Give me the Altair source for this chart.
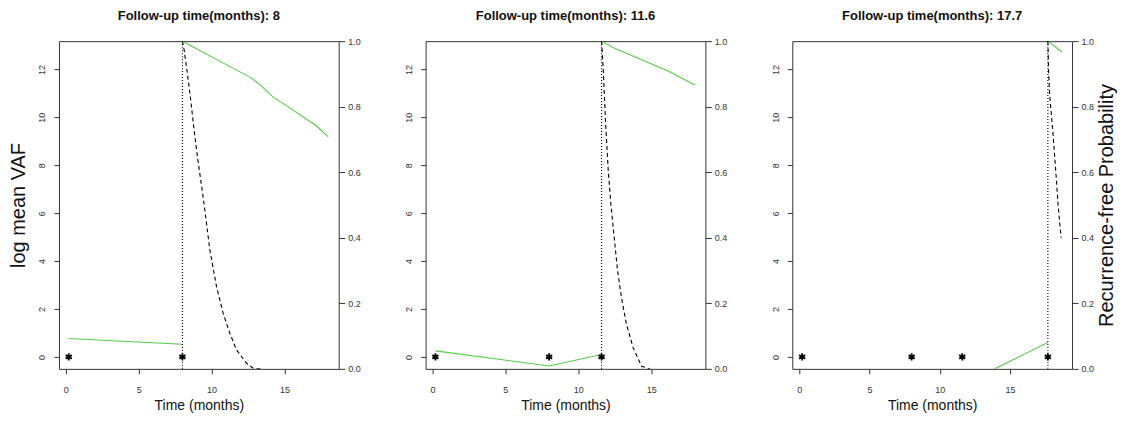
import altair as alt
import pandas as pd

# ---------------- data ----------------
followup = [8, 11.6, 17.7]
visit_times = [[0.2, 8.0], [0.2, 8.0, 11.6], [0.2, 8.0, 11.6, 17.7]]

# fitted longitudinal trajectory (log mean VAF, left axis)
vaf_x = [[0.2, 8.0], [0.2, 8.0, 11.6], [13.9, 17.7]]
vaf_y = [[0.77, 0.53], [0.25, -0.38, 0.1], [-0.5, 0.6]]

# predicted recurrence-free probability (green, right axis)
rfp_x = [[8.0, 10.0, 12.6, 13.3, 14.2, 15.0, 17.2, 18.0],
         [11.6, 12.5, 16.2, 18.0],
         [17.7, 18.7]]
rfp_y = [[1.0, 0.952, 0.891, 0.868, 0.83, 0.807, 0.741, 0.708],
         [1.0, 0.978, 0.908, 0.866],
         [1.0, 0.967]]

# lower band (dashed, right axis)
low_x = [[8.0, 8.12, 8.34, 8.57, 8.8, 9.03, 9.45, 9.88, 10.34, 10.79, 11.25, 11.71, 12.4, 12.85, 13.4],
         [11.6, 11.72, 11.87, 12.06, 12.24, 12.47, 12.7, 12.97, 13.31, 13.77, 14.34, 14.92],
         [17.7, 17.75, 17.82, 17.94, 18.06, 18.18, 18.3, 18.41, 18.53, 18.62, 18.65]]
low_y = [[1.0, 0.973, 0.901, 0.82, 0.729, 0.647, 0.515, 0.363, 0.251, 0.17, 0.109, 0.058, 0.017, 0.002, 0.0],
         [1.0, 0.908, 0.755, 0.603, 0.501, 0.399, 0.298, 0.216, 0.135, 0.064, 0.008, 0.0],
         [1.0, 0.91, 0.84, 0.78, 0.72, 0.65, 0.58, 0.51, 0.45, 0.41, 0.40]]

x_domains = [[-0.47, 18.72], [-0.47, 18.72], [-0.5, 19.42]]
left_domain = [-0.5, 13.18]
left_ticks = [0, 2, 4, 6, 8, 10, 12]
right_ticks = [0, 0.2, 0.4, 0.6, 0.8, 1.0]
x_ticks = [0, 5, 10, 15]

# ---------------- style ----------------
W, H = 280, 328
FONT = "Liberation Sans"
GREEN = "#55cc44"
LABEL = "#333333"
ASTERISK = "M0,-1L0,1M-0.87,-0.5L0.87,0.5M-0.87,0.5L0.87,-0.5"


def panel(i):
    xs = alt.Scale(domain=x_domains[i], nice=False, zero=False)
    ysl = alt.Scale(domain=left_domain, nice=False, zero=False)
    ysr = alt.Scale(domain=[0, 1], nice=False, zero=False)

    xaxis = alt.Axis(values=x_ticks, title="Time (months)", grid=False, domain=False,
                     tickSize=5, tickColor=LABEL, labelColor=LABEL, labelFont=FONT,
                     labelFontSize=9, labelPadding=12, titleFont=FONT, titleFontSize=14,
                     titleFontWeight="normal", titleColor="#111", titlePadding=4,
                     labelFlush=False)
    laxis = alt.Axis(orient="left", values=left_ticks, title=("log mean VAF" if i == 0 else None),
                     grid=False, domain=False, tickSize=5, tickColor=LABEL,
                     labelColor=LABEL, labelFont=FONT, labelFontSize=9, labelAngle=270,
                     labelAlign="center", labelBaseline="bottom", labelPadding=7,
                     labelFlush=False,
                     titleFont=FONT, titleFontSize=20, titleFontWeight="normal",
                     titleColor="#111", titlePadding=9)
    raxis = alt.Axis(orient="right", values=right_ticks, format=".1f",
                     title=("Recurrence-free Probability" if i == 2 else None),
                     grid=False, domain=False, tickSize=6, tickColor=LABEL,
                     labelColor=LABEL, labelFont=FONT, labelFontSize=9, labelAngle=0,
                     labelPadding=3, labelFlush=False,
                     titleFont=FONT, titleFontSize=20, titleFontWeight="normal",
                     titleColor="#111", titlePadding=3, titleAngle=270, titleBaseline="top")

    df_vaf = pd.DataFrame({"t": vaf_x[i], "v": vaf_y[i]})
    df_star = pd.DataFrame({"t": visit_times[i], "v": [0.0] * len(visit_times[i])})
    df_rfp = pd.DataFrame({"t": rfp_x[i], "p": rfp_y[i]})
    df_low = pd.DataFrame({"t": low_x[i], "p": low_y[i]})
    df_fu = pd.DataFrame({"t": [followup[i]]})

    X = alt.X("t:Q", scale=xs, axis=xaxis)

    vaf = alt.Chart(df_vaf).mark_line(color=GREEN, strokeWidth=1.1, clip=True).encode(
        x=X, y=alt.Y("v:Q", scale=ysl, axis=laxis))
    stars = alt.Chart(df_star).mark_point(shape=ASTERISK, size=50, color="#000",
                                          strokeWidth=1.8, opacity=1).encode(
        x=X, y=alt.Y("v:Q", scale=ysl, axis=laxis))
    left = alt.layer(vaf, stars)

    rfp = alt.Chart(df_rfp).mark_line(color=GREEN, strokeWidth=1.1, clip=True).encode(
        x=X, y=alt.Y("p:Q", scale=ysr, axis=raxis))
    low = alt.Chart(df_low).mark_line(color="#000", strokeWidth=1.1, strokeDash=[4, 3],
                                      clip=True).encode(
        x=X, y=alt.Y("p:Q", scale=ysr, axis=raxis))
    vline = alt.Chart(df_fu).mark_rule(color="#000", strokeWidth=1.1, strokeDash=[1, 2]).encode(
        x=X, y=alt.value(0), y2=alt.value(H))
    right = alt.layer(rfp, low, vline)

    return alt.layer(left, right).resolve_scale(y="independent").properties(
        width=W, height=H,
        title=alt.TitleParams(text=f"Follow-up time(months): {followup[i]}", font=FONT,
                              fontSize=13, fontWeight="bold", color="#111",
                              anchor="middle", offset=14))


chart = alt.hconcat(panel(0), panel(1), panel(2), spacing=87, bounds="flush").properties(
    padding={"left": 8, "top": 9, "right": 5, "bottom": 5},
    background="white",
).configure_view(stroke="#333", strokeWidth=1)

chart.save("out.html", embed_options={"renderer": "svg", "actions": False})
